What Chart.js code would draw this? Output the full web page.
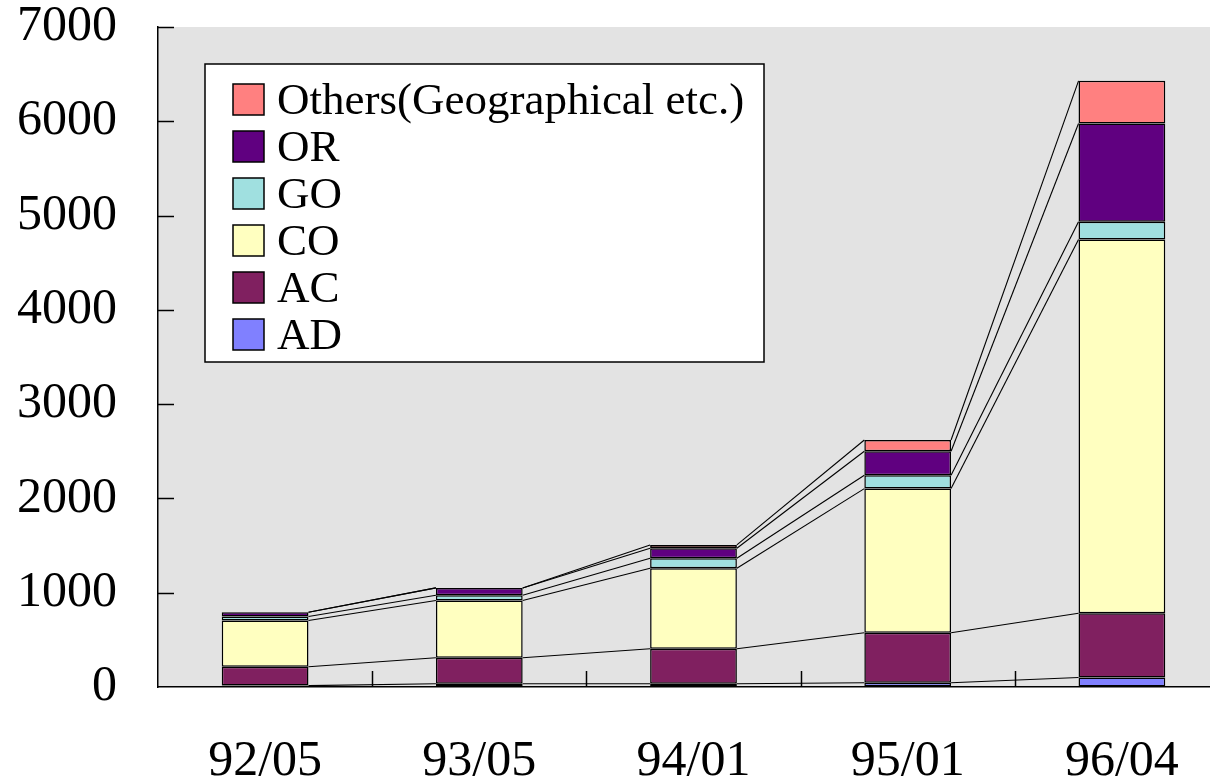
<!DOCTYPE html>
<html>
<head>
<meta charset="utf-8">
<script src="https://cdn.jsdelivr.net/npm/chart.js@4.4.1/dist/chart.umd.min.js"></script>
<style>
  html, body { margin: 0; padding: 0; background: #fff; overflow: hidden; }
  #wrap { width: 1229px; height: 782px; }
</style>
</head>
<body>
<div id="wrap"><canvas id="chart"></canvas></div>
<script>
// Data
const categories = ['92/05', '93/05', '94/01', '95/01', '96/04'];
const adValues     = [15, 35, 35, 45, 100];
const acValues     = [200, 275, 370, 530, 682];
const coValues     = [490, 607, 854, 1529, 3965];
const goValues     = [42, 56, 106, 141, 187];
const orValues     = [46, 78, 106, 255, 1042];
const othersValues = [0, 0, 36, 120, 453];
const yTicks = [0, 1000, 2000, 3000, 4000, 5000, 6000, 7000];

const FONT = "'Liberation Serif', 'Times New Roman', serif";

// gray plot background
const plotBg = {
    id: 'plotBg',
    beforeDraw(chart) {
        const { ctx, chartArea: a } = chart;
        ctx.save();
        ctx.fillStyle = '#e3e3e3';
        ctx.fillRect(a.left, a.top, a.right - a.left, a.bottom - a.top);
        ctx.restore();
    }
};

// series lines + inward tick marks + legend box
const extras = {
    id: 'extras',
    afterDatasetsDraw(chart) {
        const ctx = chart.ctx;
        const a = chart.chartArea;
        const xs = chart.scales.x, ys = chart.scales.y;
        ctx.save();

        // series lines between stacks
        ctx.strokeStyle = '#000';
        ctx.lineWidth = 1.1;
        chart.data.datasets.forEach((ds, di) => {
            const bars = chart.getDatasetMeta(di).data;
            for (let i = 0; i < bars.length - 1; i++) {
                const b1 = bars[i], b2 = bars[i + 1];
                ctx.beginPath();
                ctx.moveTo(b1.x + b1.width / 2, b1.y);
                ctx.lineTo(b2.x - b2.width / 2, b2.y);
                ctx.stroke();
            }
        });

        // inward ticks
        ctx.lineWidth = 1.5;
        yTicks.forEach(v => {
            if (v === 0) return;
            const y = Math.round(ys.getPixelForValue(v)) + 0.5;
            ctx.beginPath();
            ctx.moveTo(a.left, y);
            ctx.lineTo(a.left + 16, y);
            ctx.stroke();
        });
        for (let i = 0; i < categories.length - 1; i++) {
            const x = Math.round((xs.getPixelForValue(i) + xs.getPixelForValue(i + 1)) / 2) + 0.5;
            ctx.beginPath();
            ctx.moveTo(x, a.bottom);
            ctx.lineTo(x, a.bottom - 16);
            ctx.stroke();
        }
        ctx.restore();
    },
    afterDraw(chart) {
        const ctx = chart.ctx;
        const a = chart.chartArea;
        const lx = a.left + 47, ly = a.top + 37, lw = 559, lh = 298;
        ctx.save();
        ctx.fillStyle = '#fff';
        ctx.fillRect(lx, ly, lw, lh);
        ctx.strokeStyle = '#000';
        ctx.lineWidth = 1.5;
        ctx.strokeRect(lx, ly, lw, lh);

        ctx.font = '45px ' + FONT;
        ctx.textBaseline = 'middle';
        ctx.textAlign = 'left';
        const items = chart.data.datasets.slice().reverse();
        items.forEach((ds, i) => {
            const cy = ly + 36 + i * 47;
            ctx.fillStyle = ds.backgroundColor;
            ctx.fillRect(lx + 28, cy - 16, 31, 31);
            ctx.lineWidth = 1.5;
            ctx.strokeStyle = '#000';
            ctx.strokeRect(lx + 28, cy - 16, 31, 31);
            ctx.fillStyle = '#000';
            ctx.fillText(ds.label, lx + 72, cy + 2);
        });
        ctx.restore();
    }
};

function makeSet(label, data, color) {
    return {
        label: label,
        data: data,
        backgroundColor: color,
        borderColor: '#000',
        borderWidth: 1.5,
        borderSkipped: false,
        categoryPercentage: 1,
        barPercentage: 0.405
    };
}

new Chart(document.getElementById('chart'), {
    type: 'bar',
    data: {
        labels: categories,
        datasets: [
            makeSet('AD', adValues, '#8080ff'),
            makeSet('AC', acValues, '#802060'),
            makeSet('CO', coValues, '#ffffc0'),
            makeSet('GO', goValues, '#a0e0e0'),
            makeSet('OR', orValues, '#600080'),
            makeSet('Others(Geographical etc.)', othersValues, '#ff8080')
        ]
    },
    options: {
        responsive: true,
        maintainAspectRatio: false,
        animation: false,
        layout: { padding: { top: 27, left: 0, right: 0, bottom: 0 } },
        plugins: {
            legend: { display: false },
            tooltip: { enabled: false }
        },
        scales: {
            x: {
                stacked: true,
                grid: { display: true, drawOnChartArea: false, drawTicks: false },
                border: { display: true, color: '#000', width: 1.5 },
                ticks: {
                    color: '#000',
                    font: { family: FONT, size: 50, lineHeight: 1 },
                    padding: 50,
                    maxRotation: 0
                },
                afterFit(scale) {
                    scale.height = 95;
                    scale.paddingLeft = 0;
                    scale.paddingRight = 0;
                }
            },
            y: {
                stacked: true,
                min: 0,
                max: 7000,
                afterBuildTicks(scale) {
                    scale.ticks = yTicks.map(v => ({ value: v }));
                },
                grid: { display: true, drawOnChartArea: false, drawTicks: false },
                border: { display: true, color: '#000', width: 1.5 },
                ticks: {
                    color: '#000',
                    font: { family: FONT, size: 50, lineHeight: 1 },
                    padding: 41,
                    callback: v => String(v)
                },
                afterFit(scale) {
                    scale.width = 158;
                    scale.paddingTop = 0;
                    scale.paddingBottom = 0;
                }
            }
        }
    },
    plugins: [plotBg, extras]
});
</script>
</body>
</html>
